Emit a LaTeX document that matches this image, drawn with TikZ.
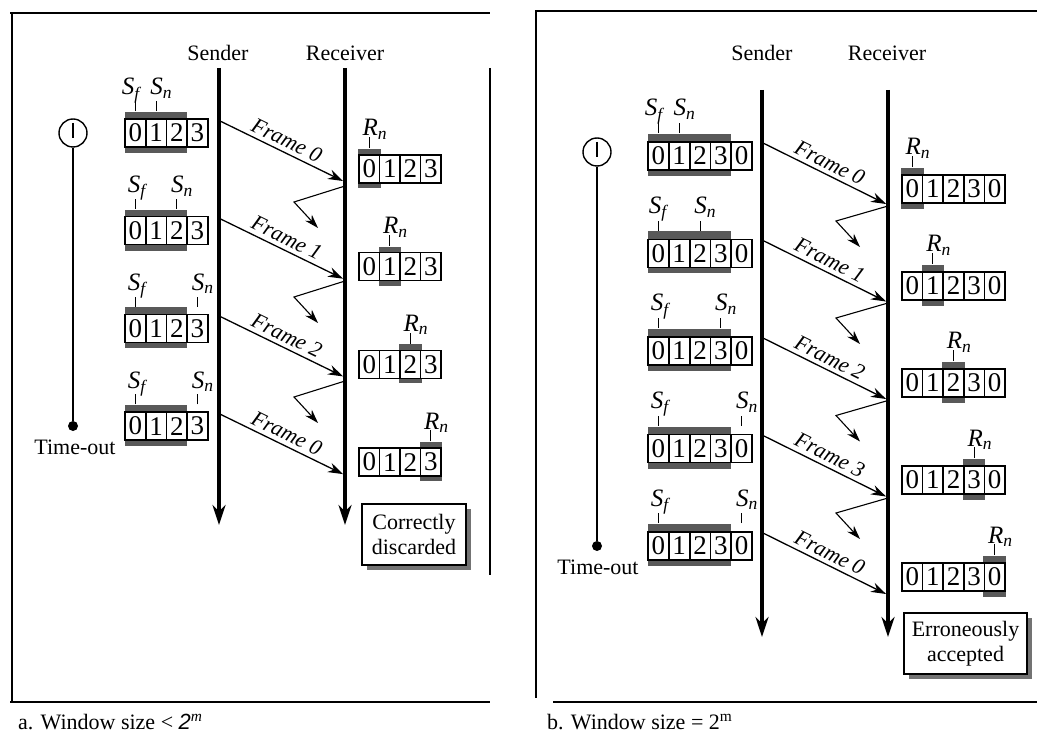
\documentclass[tikz,border=0pt]{standalone}
\usepackage{fontspec}
\setmainfont{Liberation Serif}
\setsansfont{Liberation Sans}
\usetikzlibrary{arrows.meta,shadows}

\tikzset{
  panel/.style={line width=0.6pt},
  lifeline/.style={line width=1.6pt, -{Stealth[length=10pt,width=6.5pt]}},
  framearrow/.style={line width=0.65pt, -{Stealth[length=7.5pt,width=5pt]}},
  ackarrow/.style={line width=0.55pt, -{Stealth[length=7pt,width=4.5pt]}},
  cell/.style={draw, fill=white, line width=0.8pt, minimum width=10.3pt, minimum height=14pt,
    inner sep=0pt, font=\fontsize{13.5}{14}\selectfont},
  shade/.style={fill=black!65},
  ptr/.style={line width=0.5pt},
  ptrlabel/.style={inner sep=0pt, font=\fontsize{12.5}{13}\selectfont},
  side/.style={font=\fontsize{11}{13}\selectfont},
  framelabel/.style={font=\fontsize{11}{13}\selectfont\itshape, sloped, above, midway, inner sep=2pt},
  note/.style={draw, fill=white, line width=0.7pt, align=center, inner sep=0pt,
    font=\fontsize{11}{12.5}\selectfont,
    drop shadow={shadow xshift=2.5pt, shadow yshift=-2.5pt, fill=black!55, opacity=1}},
  timer/.style={draw, circle, line width=0.7pt, minimum size=14pt, inner sep=0pt},
  dot/.style={fill, circle, minimum size=5pt, inner sep=0pt},
}
\newcommand{\wvar}[2]{\textit{#1}\textsubscript{\textit{#2}}}

\begin{document}
\begin{tikzpicture}[x=0.5pt, y=-0.5pt]
\useasboundingbox (0,0) rectangle (1037,732);

% ===== a. Window size < 2^m =====
\draw[panel] (10,13) -- (490,13);
\draw[panel] (12,13) -- (12,702);
\draw[panel] (10,702) -- (490,702);
\draw[panel] (490,68) -- (490,575);
\node[side, anchor=base west] (capa) at (11,729)
  {a. Window size < {\sffamily\itshape 2}\textsuperscript{\itshape m}};

% sender and receiver lines
\node[side] (senda) at (218,53) {Sender};
\node[side] (recva) at (345,53) {Receiver};
\coordinate (sat) at (219,68);
\coordinate (sab) at (219,525);
\coordinate (rat) at (345,68);
\coordinate (rab) at (345,525);
\draw[lifeline] (sat) -- (sab);
\draw[lifeline] (rat) -- (rab);

% timer
\node[timer] (tmra) at (73,133) {};
\draw[line width=1.1pt] (tmra.center) ++(0,-10) -- ++(0,15);
\node[dot] (toa) at (73,426) {};
\draw[line width=0.9pt] (tmra) -- (toa);
\node[side] (toalbl) at (75,447) {Time-out};

% sender windows
\foreach \k/\yy/\sn/\sfx/\fr in {1/119/1/-14/0, 2/216.7/2/-8/1, 3/314.4/3/-8/2, 4/412.1/3/-8/0} {
  \fill[shade] (125,\yy-7) rectangle (187.1,\yy+34);
  \foreach \c in {0,...,3}
    \node[cell] (sa\k c\c) at ({135.35+20.7*\c},\yy+14) {\c};
  \draw[ptr] (sa\k c0.north) ++(0,-7) -- ++(0,-10);
  \draw[ptr] (sa\k c\sn.north) ++(0,-7) -- ++(0,-10);
  \node[ptrlabel, anchor=base west] (sfa\k) at ({135.35+\sfx},\yy-24) {\wvar{S}{f}};
  \node[ptrlabel, anchor=base west] (sna\k) at ({135.35+20.7*\sn-6},\yy-24) {\wvar{S}{n}};
  % frame sent
  \coordinate (fa\k s) at (220,\yy+2);
  \coordinate (fa\k e) at (343,\yy+62);
  \draw[framearrow] (fa\k s) -- node[framelabel] {Frame \fr} (fa\k e);
}

% lost acknowledgments
\foreach \k/\ee in {1/183, 2/278, 3/378} {
  \coordinate (aa\k s) at (345,\ee+3);
  \coordinate (aa\k m) at (294,\ee+19);
  \coordinate (aa\k e) at (318,\ee+45);
  \draw[ackarrow] (aa\k s) -- (aa\k m) -- (aa\k e);
}

% receiver windows
\foreach \k/\yy/\rn in {1/155/0, 2/252.7/1, 3/350.4/2, 4/448.1/3} {
  \fill[shade] ({359+20.5*\rn-1},\yy-6) rectangle ({359+20.5*(\rn+1)+1},\yy+33);
  \foreach \c in {0,...,3}
    \node[cell] (ra\k c\c) at ({369.25+20.5*\c},\yy+14) {\c};
  \draw[ptr] (ra\k c\rn.north) ++(0,-6) -- ++(0,-11);
  \node[ptrlabel, anchor=base west] (rna\k) at ({369.25+20.5*\rn-7},\yy-19) {\wvar{R}{n}};
}

\node[note, minimum width=52pt, minimum height=30.5pt] (nota) at (414,534.5) {Correctly\\discarded};

% ===== b. Window size = 2^m =====
\draw[panel] (535,11) -- (1037,11);
\draw[panel] (536,11) -- (536,698);
\draw[panel] (553,702) -- (1037,702);
\node[side, anchor=base west] (capb) at (540,729) {b. Window size = 2\textsuperscript{m}};

% sender and receiver lines
\node[side] (sendb) at (762,53) {Sender};
\node[side] (recvb) at (887,53) {Receiver};
\coordinate (sbt) at (762,90);
\coordinate (sbb) at (762,637);
\coordinate (rbt) at (888,90);
\coordinate (rbb) at (888,637);
\draw[lifeline] (sbt) -- (sbb);
\draw[lifeline] (rbt) -- (rbb);

% timer
\node[timer] (tmrb) at (597,152) {};
\draw[line width=1.1pt] (tmrb.center) ++(0,-10) -- ++(0,15);
\node[dot] (tob) at (597,546) {};
\draw[line width=0.9pt] (tmrb) -- (tob);
\node[side] (toblbl) at (598,567) {Time-out};

% sender windows
\foreach \k/\yy/\sn/\sfx/\fr in {1/142/1/-14/0, 2/239.5/2/-10/1, 3/337/3/-8/2, 4/434.5/4/-8/3, 5/532/4/-8/0} {
  \fill[shade] (648,\yy-8) rectangle (731.2,\yy+34);
  \foreach \c in {0,...,3}
    \node[cell] (sb\k c\c) at ({658.4+20.8*\c},\yy+14) {\c};
  \node[cell] (sb\k c4) at ({658.4+20.8*4},\yy+14) {0};
  \draw[ptr] (sb\k c0.north) ++(0,-8) -- ++(0,-10);
  \draw[ptr] (sb\k c\sn.north) ++(0,-8) -- ++(0,-10);
  \node[ptrlabel, anchor=base west] (sfb\k) at ({658.4+\sfx},\yy-26) {\wvar{S}{f}};
  \node[ptrlabel, anchor=base west] (snb\k) at ({658.4+20.8*\sn-6},\yy-26) {\wvar{S}{n}};
  % frame sent
  \coordinate (fb\k s) at (763,\yy+1);
  \coordinate (fb\k e) at (886,\yy+62);
  \draw[framearrow] (fb\k s) -- node[framelabel] {Frame \fr} (fb\k e);
}

% lost acknowledgments
\foreach \k/\ee in {1/204, 2/301, 3/398.5, 4/496} {
  \coordinate (ab\k s) at (888,\ee+2);
  \coordinate (ab\k m) at (836,\ee+17);
  \coordinate (ab\k e) at (860,\ee+43);
  \draw[ackarrow] (ab\k s) -- (ab\k m) -- (ab\k e);
}

% receiver windows
\foreach \k/\yy/\rn in {1/175/0, 2/272/1, 3/369/2, 4/466/3, 5/563/4} {
  \fill[shade] ({902+20.6*\rn-1},\yy-7) rectangle ({902+20.6*(\rn+1)+1},\yy+34);
  \foreach \c in {0,...,3}
    \node[cell] (rb\k c\c) at ({912.3+20.6*\c},\yy+14) {\c};
  \node[cell] (rb\k c4) at ({912.3+20.6*4},\yy+14) {0};
  \draw[ptr] (rb\k c\rn.north) ++(0,-7) -- ++(0,-11);
  \node[ptrlabel, anchor=base west] (rnb\k) at ({912.3+20.6*\rn-7},\yy-20) {\wvar{R}{n}};
}

\node[note, minimum width=61.5pt, minimum height=30.5pt] (notb) at (965.5,643.5) {Erroneously\\accepted};
\end{tikzpicture}
\end{document}
